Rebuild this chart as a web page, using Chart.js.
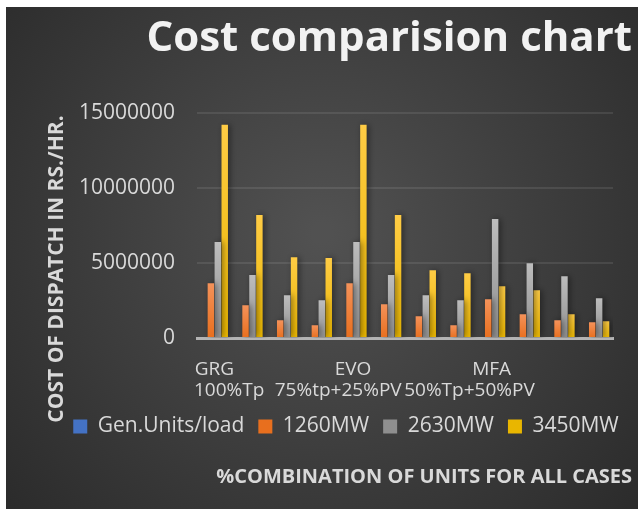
<!DOCTYPE html>
<html>
<head>
<meta charset="utf-8">
<script src="https://cdn.jsdelivr.net/npm/chart.js@4.4.1/dist/chart.umd.min.js"></script>
<style>
  html, body { margin: 0; padding: 0; background: #ffffff; }
  #wrap { position: absolute; left: 6px; top: 7px; width: 632px; height: 502px; }
</style>
</head>
<body>
<div id="wrap"><canvas id="chart"></canvas></div>
<script>
var categories = [['GRG', '100%Tp'], '', '', '', ['EVO', '75%tp+25%PV'], '', '', '', ['MFA', '50%Tp+50%PV'], '', '', ''];
var genUnits = [0, 0, 0, 0, 0, 0, 0, 0, 0, 0, 0, 0];
var mw1260 = [3660000, 2190000, 1180000, 850000, 3660000, 2260000, 1450000, 850000, 2590000, 1590000, 1180000, 1050000];
var mw2630 = [6410000, 4200000, 2860000, 2520000, 6410000, 4200000, 2860000, 2520000, 7950000, 5000000, 4130000, 2660000];
var mw3450 = [14240000, 8210000, 5400000, 5340000, 14240000, 8210000, 4530000, 4330000, 3460000, 3190000, 1590000, 1120000];
var yTicks = [0, 5000000, 10000000, 15000000];

var FONT = "'Open Sans', sans-serif";
var TEXT = '#d9d9d9';

// lighter at the top of each bar, darker at the base
function barFill(light, dark) {
    return function(ctx) {
        var chart = ctx.chart;
        if (!chart.chartArea || ctx.raw === undefined) return dark;
        var y = chart.scales.y;
        var top = y.getPixelForValue(ctx.raw), bottom = y.getPixelForValue(0);
        if (bottom - top < 1) return dark;
        var g = chart.ctx.createLinearGradient(0, top, 0, bottom);
        g.addColorStop(0, light);
        g.addColorStop(1, dark);
        return g;
    };
}

var background = {
    id: 'background',
    beforeDraw: function(chart) {
        var c = chart.ctx, w = chart.width, h = chart.height;
        var g = c.createRadialGradient(w * 0.5, h * 0.45, 10, w * 0.5, h * 0.45, w * 0.75);
        g.addColorStop(0, '#515151');
        g.addColorStop(1, '#262626');
        c.save();
        c.fillStyle = g;
        c.fillRect(0, 0, w, h);
        c.restore();
    }
};

var barShadow = {
    id: 'barShadow',
    beforeDatasetsDraw: function(chart) {
        var c = chart.ctx;
        c.save();
        c.shadowColor = 'rgba(0,0,0,0.45)';
        c.shadowBlur = 6;
        c.shadowOffsetX = 2;
        c.shadowOffsetY = 0;
    },
    afterDatasetsDraw: function(chart) {
        chart.ctx.restore();
    }
};

// legend sits a bit right of centre in the original
var legendShift = {
    id: 'legendShift',
    afterLayout: function(chart) {
        chart.legend.left += 27;
        chart.legend.right += 27;
    }
};

// vertical axis title, placed like the original (lower than the plot centre)
var yAxisTitle = {
    id: 'yAxisTitle',
    afterDraw: function(chart) {
        var c = chart.ctx;
        c.save();
        c.translate(51, 262);
        c.rotate(-Math.PI / 2);
        c.font = 'bold 21px ' + FONT;
        c.fillStyle = TEXT;
        c.textAlign = 'center';
        c.textBaseline = 'middle';
        c.fillText('COST OF DISPATCH IN RS./HR.', 0, 0);
        c.restore();
    }
};

var ctx = document.getElementById('chart');
var chart = new Chart(ctx, {
    type: 'bar',
    data: {
        labels: categories,
        datasets: [
            { label: 'Gen.Units/load', data: genUnits, backgroundColor: '#4472c4' },
            { label: '1260MW', data: mw1260, backgroundColor: barFill('#f4925a', '#e86f1e') },
            { label: '2630MW', data: mw2630, backgroundColor: barFill('#bdbdbd', '#8f8f8f') },
            { label: '3450MW', data: mw3450, backgroundColor: barFill('#ffcc45', '#e9b600') }
        ]
    },
    options: {
        responsive: true,
        maintainAspectRatio: false,
        animation: false,
        layout: { padding: { left: 0, right: 6, top: 0, bottom: 0 } },
        datasets: { bar: { categoryPercentage: 0.8, barPercentage: 0.93 } },
        plugins: {
            title: {
                display: true,
                text: 'Cost comparision chart',
                align: 'end',
                color: '#f2f2f2',
                font: { family: FONT, size: 42, weight: 'bold' },
                padding: { top: 7, bottom: 49 }
            },
            subtitle: {
                display: true,
                position: 'bottom',
                align: 'end',
                text: '%COMBINATION OF UNITS FOR ALL CASES',
                color: TEXT,
                font: { family: FONT, size: 20, weight: 'bold' },
                padding: { top: 18, bottom: 20 }
            },
            legend: {
                position: 'bottom',
                labels: {
                    color: TEXT,
                    font: { family: FONT, size: 21 },
                    boxWidth: 14,
                    boxHeight: 14,
                    padding: 14
                }
            },
            tooltip: { enabled: false }
        },
        scales: {
            x: {
                afterFit: function(scale) { scale.height = 64; },
                grid: { display: false, drawTicks: false },
                border: { display: true, color: '#b4b4b4', width: 3 },
                ticks: {
                    color: TEXT,
                    font: { family: FONT, size: 19, lineHeight: 1.1 },
                    autoSkip: false,
                    maxRotation: 0,
                    padding: 21,
                    callback: function(v, i) {
                        var lab = categories[i];
                        if (!Array.isArray(lab)) return lab;
                        // the second line wraps off-centre in the original
                        var pre = { 0: '      ' }[i] || '';
                        var post = { 4: '      ', 8: '         ' }[i] || '';
                        return [lab[0], pre + lab[1] + post];
                    }
                }
            },
            y: {
                min: 0,
                max: 15000000,
                afterFit: function(scale) { scale.width = 191; },
                afterBuildTicks: function(scale) {
                    scale.ticks = yTicks.map(function(v) { return { value: v }; });
                },
                grid: {
                    drawTicks: false,
                    lineWidth: 2,
                    color: function(c) { return c.tick && c.tick.value === 0 ? 'rgba(0,0,0,0)' : 'rgba(255,255,255,0.09)'; }
                },
                border: { display: false },
                ticks: {
                    color: TEXT,
                    font: { family: FONT, size: 21 },
                    padding: 22,
                    callback: function(v) { return String(v); }
                }
            },
            // empty right-hand axis, only keeps the plot clear of the right edge
            yRight: {
                position: 'right',
                afterFit: function(scale) { scale.width = 19; },
                grid: { display: false, drawTicks: false },
                border: { display: false },
                ticks: { display: false }
            }
        }
    },
    plugins: [background, barShadow, legendShift, yAxisTitle]
});
</script>
</body>
</html>
